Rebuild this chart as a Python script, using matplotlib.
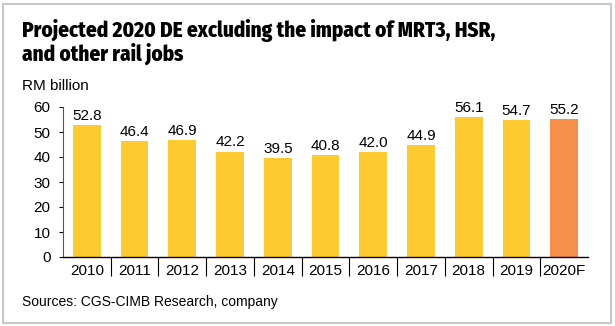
import matplotlib
matplotlib.use('Agg')
import matplotlib.pyplot as plt
from matplotlib.patches import Rectangle

years = ['2010', '2011', '2012', '2013', '2014', '2015', '2016', '2017', '2018', '2019', '2020F']
values = [52.8, 46.4, 46.9, 42.2, 39.5, 40.8, 42.0, 44.9, 56.1, 54.7, 55.2]
colors = ['#FDCB30'] * 10 + ['#F58F4A']

W, H = 615, 326
fig = plt.figure(figsize=(W / 100, H / 100), dpi=100)
plt.rcParams['font.family'] = ['Liberation Sans', 'DejaVu Sans']

# frame around the whole graphic
fig.patches.append(Rectangle((3 / W, 3 / H), 608 / W, 319 / H, transform=fig.transFigure,
                             fill=False, edgecolor='#c8c8c8', linewidth=1.5))

ax = fig.add_axes([63 / W, (H - 257) / H, 525 / W, 150 / H])
x = range(len(years))
ax.bar(x, values, width=0.58, color=colors, edgecolor='none')
for i, v in enumerate(values):
    ax.text(i, v + 0.8, f'{v:.1f}', ha='center', va='bottom', fontsize=11, clip_on=False)

ax.set_xlim(-0.5, 10.5)
ax.set_ylim(0, 60)
ax.set_yticks(range(0, 61, 10))
ax.set_xticks(list(x))
ax.set_xticklabels(years)
ax.set_xticks([i + 0.5 for i in range(10)], minor=True)
ax.tick_params(axis='x', which='major', length=0, labelsize=11, pad=5)
ax.tick_params(axis='x', which='minor', length=14, width=0.8, direction='out')
ax.tick_params(axis='y', length=3, width=0.8, labelsize=11, pad=6)
for s in ['top', 'right']:
    ax.spines[s].set_visible(False)
ax.spines['left'].set_color('#555555')
ax.spines['bottom'].set_linewidth(1.0)

fig.text(22 / W, (H - 61) / H, 'Projected 2020 DE excluding the impact of MRT3, HSR,\nand other rail jobs',
         fontsize=15.2, fontweight=800, family=['Fira Sans Condensed', 'DejaVu Sans'],
         ha='left', va='baseline', linespacing=1.08)
fig.text(22 / W, (H - 90) / H, 'RM billion', fontsize=11, ha='left', va='baseline')
fig.text(22 / W, (H - 306) / H, 'Sources: CGS-CIMB Research, company', fontsize=10,
         ha='left', va='baseline')

fig.savefig('out.png', dpi=100)
